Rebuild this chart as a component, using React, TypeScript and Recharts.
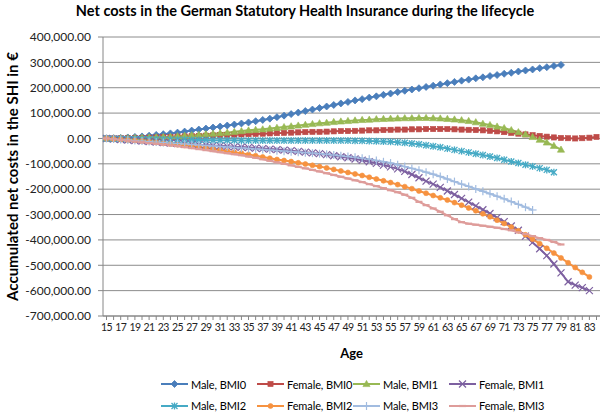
import React from 'react';
import { LineChart, Line, XAxis, YAxis, CartesianGrid, Legend } from 'recharts';

// Categories (age in years)
const ages = [
  15, 16, 17, 18, 19, 20, 21, 22, 23, 24,
  25, 26, 27, 28, 29, 30, 31, 32, 33, 34,
  35, 36, 37, 38, 39, 40, 41, 42, 43, 44,
  45, 46, 47, 48, 49, 50, 51, 52, 53, 54,
  55, 56, 57, 58, 59, 60, 61, 62, 63, 64,
  65, 66, 67, 68, 69, 70, 71, 72, 73, 74,
  75, 76, 77, 78, 79, 80, 81, 82, 83, 84,
];

// Series values, thousands of euros, starting at age 15
const maleBMI0 = [
  0, 1, 2, 4, 6, 8, 11, 14, 17, 20,
  23, 27, 31, 35, 39, 43, 47, 51, 55, 59,
  63, 68, 73, 78, 84, 90, 96, 102, 108, 114,
  120, 126, 132, 138, 144, 150, 155, 161, 166, 172,
  177, 183, 188, 193, 198, 203, 208, 213, 218, 223,
  228, 232, 237, 241, 246, 250, 255, 259, 264, 268,
  272, 277, 281, 286, 290,
];
const femaleBMI0 = [
  0, 0, 1, 1, 2, 2, 3, 4, 5, 6,
  7, 8, 9, 10, 11, 12, 13, 14, 15, 16,
  17, 18, 19, 20, 21, 22, 23, 24, 25, 26,
  26, 27, 28, 29, 29, 30, 31, 32, 32, 33,
  34, 35, 35, 36, 36, 37, 37, 37, 37, 36,
  35, 34, 33, 32, 30, 28, 25, 22, 19, 16,
  13, 10, 7, 4, 2, 1, 0, 1, 3, 6,
];
const maleBMI1 = [
  0, 0, 1, 1, 2, 3, 4, 5, 6, 7,
  9, 11, 13, 15, 17, 19, 21, 23, 26, 29,
  32, 34, 36, 39, 42, 45, 48, 51, 54, 57,
  60, 62, 65, 67, 69, 71, 73, 74, 76, 77,
  78, 79, 80, 80, 81, 81, 80, 79, 77, 75,
  72, 69, 64, 58, 53, 47, 41, 33, 25, 16,
  6, -5, -16, -29, -44,
];
const femaleBMI1 = [
  0, -2, -4, -6, -8, -10, -12, -14, -16, -18,
  -20, -22, -23, -25, -26, -28, -29, -31, -33, -34,
  -36, -38, -40, -42, -44, -46, -48, -51, -54, -57,
  -60, -64, -68, -72, -76, -81, -86, -92, -98, -105,
  -112, -120, -130, -142, -155, -168, -180, -193, -207, -221,
  -236, -251, -266, -281, -296, -312, -328, -345, -362, -385,
  -410, -435, -462, -495, -530, -565, -578, -588, -600,
];
const maleBMI2 = [
  0, -1, -1, -2, -2, -3, -3, -4, -4, -5,
  -5, -5, -6, -6, -6, -7, -7, -7, -7, -8,
  -8, -8, -8, -8, -8, -8, -8, -8, -8, -8,
  -8, -8, -8, -8, -8, -9, -9, -10, -11, -12,
  -13, -15, -17, -20, -23, -27, -31, -35, -40, -45,
  -50, -55, -60, -65, -71, -77, -84, -91, -97, -104,
  -110, -117, -124, -133,
];
const femaleBMI2 = [
  0, -2, -4, -6, -8, -10, -13, -16, -19, -22,
  -25, -28, -31, -34, -38, -42, -46, -50, -54, -58,
  -63, -68, -73, -78, -83, -87, -91, -96, -101, -106,
  -111, -116, -122, -128, -134, -140, -146, -153, -160, -167,
  -174, -182, -190, -198, -207, -216, -225, -234, -243, -253,
  -263, -274, -285, -297, -309, -322, -335, -349, -364, -380,
  -397, -415, -433, -452, -471, -490, -509, -528, -546,
];
const maleBMI3 = [
  0, -2, -4, -6, -8, -10, -12, -14, -16, -18,
  -20, -22, -24, -26, -28, -30, -32, -34, -36, -38,
  -40, -42, -44, -46, -48, -50, -52, -54, -56, -58,
  -60, -62, -65, -68, -71, -74, -78, -82, -87, -92,
  -97, -104, -111, -118, -125, -133, -141, -150, -160, -170,
  -180, -189, -199, -208, -218, -228, -238, -249, -260, -271,
  -282,
];
const femaleBMI3 = [
  0, -3, -6, -9, -12, -15, -18, -21, -24, -27,
  -30, -34, -38, -42, -46, -50, -54, -58, -62, -66,
  -71, -76, -82, -88, -94, -100, -106, -112, -118, -124,
  -130, -137, -144, -151, -158, -165, -172, -180, -188, -196,
  -204, -212, -222, -234, -250, -263, -276, -289, -303, -318,
  -330, -336, -340, -344, -348, -352, -357, -362, -370, -377,
  -385, -393, -400, -408, -418,
];

const yTicks = [400000, 300000, 200000, 100000, 0, -100000, -200000, -300000, -400000, -500000, -600000, -700000];

const TITLE = 'Net costs in the German Statutory Health Insurance during the lifecycle';
const Y_LABEL = 'Accumulated net costs in the SHI in €';
const X_LABEL = 'Age';

type Shape = 'diamond' | 'square' | 'triangle' | 'x' | 'star' | 'circle' | 'plus' | 'dash';

const series: { key: string; name: string; color: string; shape: Shape; values: number[] }[] = [
  { key: 'maleBMI0', name: 'Male, BMI0', color: '#4A7EBB', shape: 'diamond', values: maleBMI0 },
  { key: 'femaleBMI0', name: 'Female, BMI0', color: '#BE4B48', shape: 'square', values: femaleBMI0 },
  { key: 'maleBMI1', name: 'Male, BMI1', color: '#98B954', shape: 'triangle', values: maleBMI1 },
  { key: 'femaleBMI1', name: 'Female, BMI1', color: '#7D60A0', shape: 'x', values: femaleBMI1 },
  { key: 'maleBMI2', name: 'Male, BMI2', color: '#46AAC5', shape: 'star', values: maleBMI2 },
  { key: 'femaleBMI2', name: 'Female, BMI2', color: '#F69240', shape: 'circle', values: femaleBMI2 },
  { key: 'maleBMI3', name: 'Male, BMI3', color: '#A2BCE0', shape: 'plus', values: maleBMI3 },
  { key: 'femaleBMI3', name: 'Female, BMI3', color: '#DE9C9A', shape: 'dash', values: femaleBMI3 },
];

const data = ages.map((age, i) => {
  const row: Record<string, number | null> = { age };
  series.forEach((s) => {
    row[s.key] = i < s.values.length ? s.values[i] * 1000 : null;
  });
  return row;
});

const FONT = 'Lato, "Open Sans", "Liberation Sans", sans-serif';

function MarkerShape({ shape, color, cx, cy }: { shape: Shape; color: string; cx: number; cy: number }) {
  switch (shape) {
    case 'diamond':
      return <polygon points={`${cx},${cy - 3.5} ${cx + 3.5},${cy} ${cx},${cy + 3.5} ${cx - 3.5},${cy}`} fill={color} stroke={color} strokeWidth={0.8} />;
    case 'square':
      return <rect x={cx - 2.6} y={cy - 2.6} width={5.2} height={5.2} fill={color} stroke={color} strokeWidth={0.6} />;
    case 'triangle':
      return <polygon points={`${cx},${cy - 3.6} ${cx + 3.6},${cy + 2.6} ${cx - 3.6},${cy + 2.6}`} fill={color} stroke={color} strokeWidth={0.6} />;
    case 'x':
      return (
        <g stroke={color} strokeWidth={1.2}>
          <line x1={cx - 3.5} y1={cy - 3.5} x2={cx + 3.5} y2={cy + 3.5} />
          <line x1={cx - 3.5} y1={cy + 3.5} x2={cx + 3.5} y2={cy - 3.5} />
        </g>
      );
    case 'star':
      return (
        <g stroke={color} strokeWidth={1.3}>
          <line x1={cx - 3} y1={cy - 3} x2={cx + 3} y2={cy + 3} />
          <line x1={cx - 3} y1={cy + 3} x2={cx + 3} y2={cy - 3} />
          <line x1={cx} y1={cy - 3.5} x2={cx} y2={cy + 3.5} />
        </g>
      );
    case 'circle':
      return <circle cx={cx} cy={cy} r={2.5} fill={color} stroke={color} strokeWidth={0.6} />;
    case 'plus':
      return (
        <g stroke={color} strokeWidth={1.2}>
          <line x1={cx - 4} y1={cy} x2={cx + 4} y2={cy} />
          <line x1={cx} y1={cy - 4} x2={cx} y2={cy + 4} />
        </g>
      );
    case 'dash':
    default:
      return <line x1={cx - 3.5} y1={cy} x2={cx + 3.5} y2={cy} stroke={color} strokeWidth={2.2} />;
  }
}

const fmt = (v: number) =>
  v.toLocaleString('en-US', { minimumFractionDigits: 2, maximumFractionDigits: 2 });

function YLabel(props: any) {
  const vb = props.viewBox || { x: 0, y: 0, width: 0, height: 0 };
  const cy = vb.y + vb.height / 2;
  const x = 12;
  return (
    <text
      x={x}
      y={cy}
      transform={`rotate(-90, ${x}, ${cy})`}
      textAnchor="middle"
      dominantBaseline="central"
      fontFamily={FONT}
      fontSize={15}
      fontWeight={700}
      fill="#000"
    >
      {Y_LABEL}
    </text>
  );
}

function LegendContent() {
  return (
    <div style={{ position: 'relative', height: 50, width: 600, fontFamily: FONT, fontSize: 11, color: '#000' }}>
      {series.map((s, i) => {
        const row = Math.floor(i / 4);
        const col = i % 4;
        return (
          <div
            key={s.key}
            style={{
              position: 'absolute',
              left: 161 + col * 96,
              top: 14 + row * 21.5,
              height: 16,
              display: 'flex',
              alignItems: 'center',
              whiteSpace: 'nowrap',
            }}
          >
            <svg width={27} height={10} style={{ display: 'block' }}>
              <line x1={0} y1={5} x2={27} y2={5} stroke={s.color} strokeWidth={2} />
              <MarkerShape shape={s.shape} color={s.color} cx={13.5} cy={5} />
            </svg>
            <span style={{ marginLeft: 3, letterSpacing: -0.1 }}>{s.name}</span>
          </div>
        );
      })}
    </div>
  );
}

export default function App() {
  return (
    <div style={{ position: 'absolute', left: 0, top: 0, width: 600, height: 412, background: '#fff' }}>
      <div
        style={{
          position: 'absolute',
          left: 10,
          top: 2,
          width: 590,
          textAlign: 'center',
          fontFamily: FONT,
          fontSize: 14.5,
          fontWeight: 700,
          lineHeight: '18px',
          color: '#000',
          zIndex: 1,
        }}
      >
        {TITLE}
      </div>
      <LineChart width={600} height={412} data={data} margin={{ top: 37, right: 0, bottom: 0, left: 0 }}>
        <CartesianGrid vertical={false} stroke="#8C8C8C" strokeWidth={1} />
        <XAxis
          dataKey="age"
          interval={0}
          padding={{ left: 3.5, right: 3.5 }}
          height={46}
          tickFormatter={(v: number) => (v % 2 === 1 ? String(v) : '')}
          tick={{ fontSize: 10.5, fill: '#222', fontFamily: FONT, letterSpacing: -0.6 }}
          tickSize={4}
          tickMargin={4}
          axisLine={{ stroke: '#868686' }}
          tickLine={{ stroke: '#868686' }}
          label={{ value: X_LABEL, position: 'insideBottom', offset: 4, style: { fontFamily: FONT, fontSize: 13, fontWeight: 700, fill: '#000' } }}
        />
        <YAxis
          type="number"
          domain={[-700000, 400000]}
          ticks={yTicks}
          width={103}
          tickFormatter={fmt}
          tick={{ fontSize: 12, fill: '#222', fontFamily: FONT }}
          tickSize={5}
          tickMargin={7}
          axisLine={{ stroke: '#868686' }}
          tickLine={{ stroke: '#868686' }}
          label={<YLabel />}
        />
        <Legend verticalAlign="bottom" content={<LegendContent />} wrapperStyle={{ left: 0, width: 600, bottom: 0 }} />
        {series.map((s) => (
          <Line
            key={s.key}
            type="linear"
            dataKey={s.key}
            name={s.name}
            stroke={s.color}
            strokeWidth={2}
            isAnimationActive={false}
            activeDot={false}
            connectNulls={false}
            dot={(p: any) =>
              p.cx == null || p.cy == null || p.value == null ? (
                <g key={`d-${s.key}-${p.index}`} />
              ) : (
                <g key={`d-${s.key}-${p.index}`}>
                  <MarkerShape shape={s.shape} color={s.color} cx={p.cx} cy={p.cy} />
                </g>
              )
            }
          />
        ))}
      </LineChart>
    </div>
  );
}
